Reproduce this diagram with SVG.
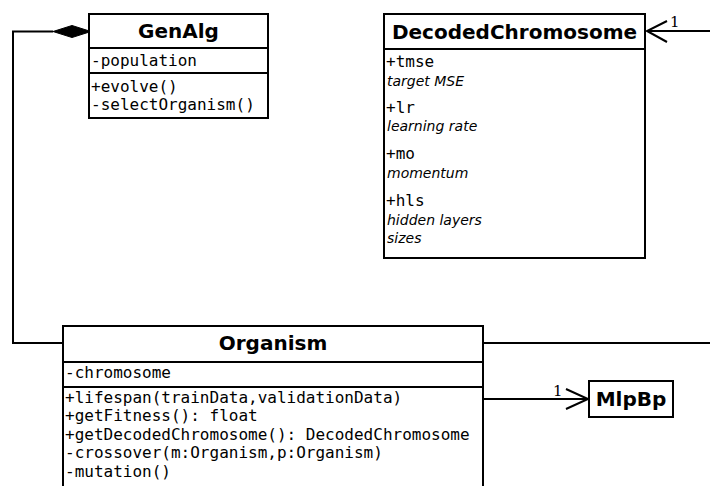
<svg xmlns="http://www.w3.org/2000/svg" width="710" height="486" viewBox="0 0 710 486">
<style>
.box{fill:#fff;stroke:#000;stroke-width:2}
.ln{fill:none;stroke:#000;stroke-width:2}
.t{font-family:"DejaVu Sans",sans-serif;font-weight:bold;font-size:20px;text-anchor:middle}
.m{font-family:"DejaVu Sans Mono",monospace;font-size:16px}
.i{font-family:"DejaVu Sans",sans-serif;font-style:italic;font-size:14px}
.n{font-family:"DejaVu Serif",serif;font-size:15px}
</style>
<rect width="710" height="486" fill="#fff"/>
<g id="connectors">
<polyline class="ln" points="53,31.5 13,31.5 13,343 63,343"/>
<polygon points="53,31.5 72,25.5 91,31.5 72,37.5" fill="#000" stroke="#000" stroke-width="1"/>
<line class="ln" x1="483" y1="343" x2="710" y2="343"/>
<line class="ln" x1="647" y1="31" x2="710" y2="31"/>
<polyline class="ln" points="667,21 647,31 667,42"/>
<text class="n" x="670" y="27">1</text>
<line class="ln" x1="483" y1="399" x2="588" y2="399"/>
<polyline class="ln" points="566,389 588,399 566,409"/>
<text class="n" x="553" y="396">1</text>
</g>
<g id="GenAlg">
<rect class="box" x="89" y="14" width="179" height="104"/>
<line class="ln" x1="89" y1="48" x2="268" y2="48"/>
<line class="ln" x1="89" y1="73" x2="268" y2="73"/>
<text class="t" x="178.5" y="38">GenAlg</text>
<text class="m" x="91" y="66">-population</text>
<text class="m" x="91" y="92">+evolve()</text>
<text class="m" x="91" y="110">-selectOrganism()</text>
</g>
<g id="DecodedChromosome">
<rect class="box" x="384" y="14" width="261" height="244"/>
<line class="ln" x1="384" y1="49" x2="645" y2="49"/>
<text class="t" x="514.5" y="39">DecodedChromosome</text>
<text class="m" x="386" y="67">+tmse</text>
<text class="i" x="387" y="86">target MSE</text>
<text class="m" x="386" y="113">+lr</text>
<text class="i" x="387" y="131">learning rate</text>
<text class="m" x="386" y="159">+mo</text>
<text class="i" x="387" y="178">momentum</text>
<text class="m" x="386" y="206">+hls</text>
<text class="i" x="387" y="225">hidden layers</text>
<text class="i" x="387" y="243">sizes</text>
</g>
<g id="Organism">
<rect class="box" x="63" y="326" width="420" height="170"/>
<line class="ln" x1="63" y1="362" x2="483" y2="362"/>
<line class="ln" x1="63" y1="387" x2="483" y2="387"/>
<text class="t" x="273" y="350">Organism</text>
<text class="m" x="65" y="378">-chromosome</text>
<text class="m" x="65" y="402.5">+lifespan(trainData,validationData)</text>
<text class="m" x="65" y="421">+getFitness(): float</text>
<text class="m" x="65" y="439.5">+getDecodedChromosome(): DecodedChromosome</text>
<text class="m" x="65" y="458">-crossover(m:Organism,p:Organism)</text>
<text class="m" x="65" y="476.5">-mutation()</text>
</g>
<g id="MlpBp">
<rect class="box" x="589" y="381" width="84" height="36"/>
<text class="t" x="631" y="406">MlpBp</text>
</g>
</svg>
